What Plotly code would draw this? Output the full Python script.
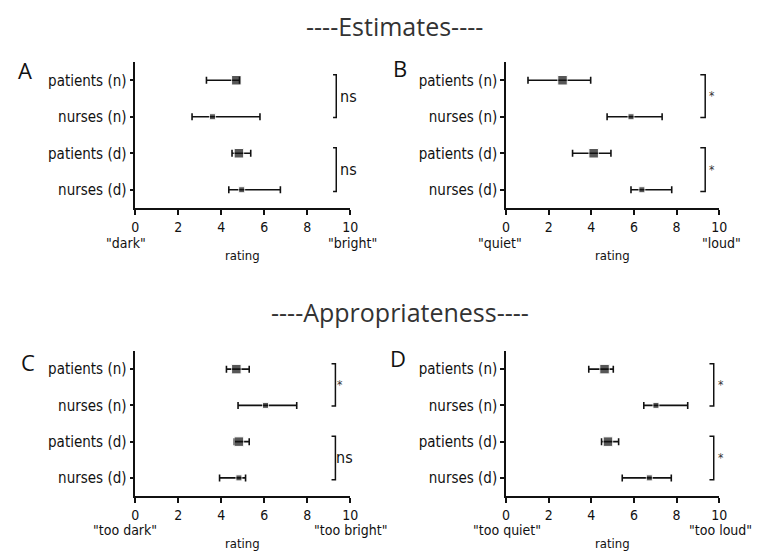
import plotly.graph_objects as go

W, H = 763, 551
OFF = 8  # page body margin in the browser

labels = ["patients (n)", "nurses (n)", "patients (d)", "nurses (d)"]
x_ticks = [0, 2, 4, 6, 8, 10]

# Panel A: light estimates
A_mid = [4.70, 3.59, 4.82, 4.95]
A_lo = [3.31, 2.64, 4.50, 4.35]
A_hi = [4.85, 5.80, 5.37, 6.75]
# Panel B: noise estimates
B_mid = [2.65, 5.86, 4.11, 6.37]
B_lo = [1.03, 4.74, 3.12, 5.86]
B_hi = [3.97, 7.32, 4.92, 7.77]
# Panel C: light appropriateness
C_mid = [4.70, 6.06, 4.82, 4.82]
C_lo = [4.24, 4.78, 4.60, 3.92]
C_hi = [5.30, 7.51, 5.30, 5.13]
# Panel D: noise appropriateness
D_mid = [4.62, 7.03, 4.78, 6.72]
D_lo = [3.88, 6.46, 4.48, 5.45]
D_hi = [5.03, 8.52, 5.28, 7.75]

letters = ["A", "B", "C", "D"]
sig_labels = [["ns", "ns"], ["*", "*"], ["*", "ns"], ["*", "*"]]
low_anchor = ['"dark"', '"quiet"', '"too dark"', '"too quiet"']
high_anchor = ['"bright"', '"loud"', '"too bright"', '"too loud"']
section_titles = ["----Estimates----", "----Appropriateness----"]

panels = [(A_mid, A_lo, A_hi), (B_mid, B_lo, B_hi), (C_mid, C_lo, C_hi), (D_mid, D_lo, D_hi)]

# layout geometry (pixels in the page)
x_px = [(133.3, 351.7), (510.0, 726.7), (133.3, 351.7), (510.0, 726.7)]
y_px = [(62, 208), (62, 208), (351, 496), (351, 496)]
bracket_x = [(9.20, 9.35), (9.11, 9.34), (9.13, 9.31), (9.54, 9.74)]
sig_x = [[9.92, 9.92], [9.66, 9.66], [9.54, 9.72], [10.07, 10.07]]
bracket_y = [(-0.15, 1.02), (1.85, 3.05)]
letter_px = [(21, 70), (402, 68), (24, 362), (400, 358)]
low_px = [124, 504, 123, 511]
high_px = [354, 729, 352, 728]
anchor_y_px = [243, 243, 530, 530]
rating_y_px = [256, 256, 543, 543]
title_px = [(397, 26), (402, 312)]

FONT = "DejaVu Sans Condensed, Liberation Sans Narrow, Roboto Condensed, Arial Narrow, Roboto, sans-serif"
INK = "#111111"

FW, FH = W - OFF, H - OFF

def px2x(p):
    return (p - OFF) / FW

def px2y(p):
    return 1 - (p - OFF) / FH

def xdata2px(i, v):
    a, b = x_px[i]
    return a + (b - a) * v / 10.0

fig = go.Figure()
shapes = []
annotations = []

def add_text(x, y, text, size, family=FONT, color=INK):
    annotations.append(dict(x=x, y=y, xref="paper", yref="paper", text=text,
                            showarrow=False, xanchor="center", yanchor="middle",
                            font=dict(family=family, size=size, color=color)))

for i, (mid, lo, hi) in enumerate(panels):
    n = i + 1
    xa = "x" if n == 1 else f"x{n}"
    ya = "y" if n == 1 else f"y{n}"
    plus = [h - m for h, m in zip(hi, mid)]
    minus = [m - l for m, l in zip(mid, lo)]
    sizes = [9.5, 6, 9.5, 6]
    fig.add_trace(go.Scatter(
        x=mid, y=[0, 1, 2, 3], mode="markers",
        marker=dict(symbol="square", size=sizes, color=INK),
        error_x=dict(type="data", array=plus, arrayminus=minus, symmetric=False,
                     color=INK, thickness=1.6, width=3.5),
        xaxis=xa, yaxis=ya, showlegend=False, hoverinfo="skip"))

    axkey = "xaxis" if n == 1 else f"xaxis{n}"
    aykey = "yaxis" if n == 1 else f"yaxis{n}"
    fig.update_layout(**{
        axkey: dict(domain=[px2x(x_px[i][0]), px2x(x_px[i][1])], range=[0, 10],
                    anchor=ya, tickvals=x_ticks, ticks="outside", ticklen=5, tickwidth=1.5,
                    tickcolor=INK, showline=True, linecolor=INK, linewidth=1.6,
                    showgrid=False, zeroline=False,
                    tickfont=dict(family=FONT, size=14, color=INK)),
        aykey: dict(domain=[px2y(y_px[i][1]), px2y(y_px[i][0])], range=[3.5, -0.5],
                    anchor=xa, tickvals=[0, 1, 2, 3], ticktext=labels, ticks="outside",
                    ticklen=4, tickwidth=1.5, tickcolor=INK, showline=True, linecolor=INK,
                    linewidth=1.6, showgrid=False, zeroline=False,
                    tickfont=dict(family=FONT, size=15, color=INK)),
    })

    # significance brackets
    bx0, bx1 = bracket_x[i]
    for j, (y0, y1) in enumerate(bracket_y):
        path = f"M {bx0},{y0} L {bx1},{y0} L {bx1},{y1} L {bx0},{y1}"
        shapes.append(dict(type="path", path=path, xref=xa, yref=ya,
                           line=dict(color=INK, width=1.5)))
        lab = sig_labels[i][j]
        cat_px = y_px[i][0] + (y_px[i][1] - y_px[i][0]) * (((y0 + y1) / 2) + 0.5) / 4.0
        add_text(px2x(xdata2px(i, sig_x[i][j])), px2y(cat_px), lab,
                 16 if lab == "ns" else 12, color=INK if lab == "ns" else "#333333")

    # scale anchors under the axis
    add_text(px2x(low_px[i]), px2y(anchor_y_px[i]), low_anchor[i], 14)
    add_text(px2x(high_px[i]), px2y(anchor_y_px[i]), high_anchor[i], 14)
    add_text(px2x(xdata2px(i, 5.0)), px2y(rating_y_px[i]), "rating", 13)
    # panel letter
    lx, ly = letter_px[i]
    add_text(px2x(lx), px2y(ly), letters[i], 22, family="Open Sans, Liberation Sans, sans-serif")

for k, t in enumerate(section_titles):
    tx, ty = title_px[k]
    add_text(px2x(tx), px2y(ty), t, 25, family="Open Sans, sans-serif", color="#333333")

fig.update_layout(width=FW, height=FH, margin=dict(l=0, r=0, t=0, b=0),
                  plot_bgcolor="white", paper_bgcolor="white",
                  shapes=shapes, annotations=annotations)

fig.write_html("out.html")
